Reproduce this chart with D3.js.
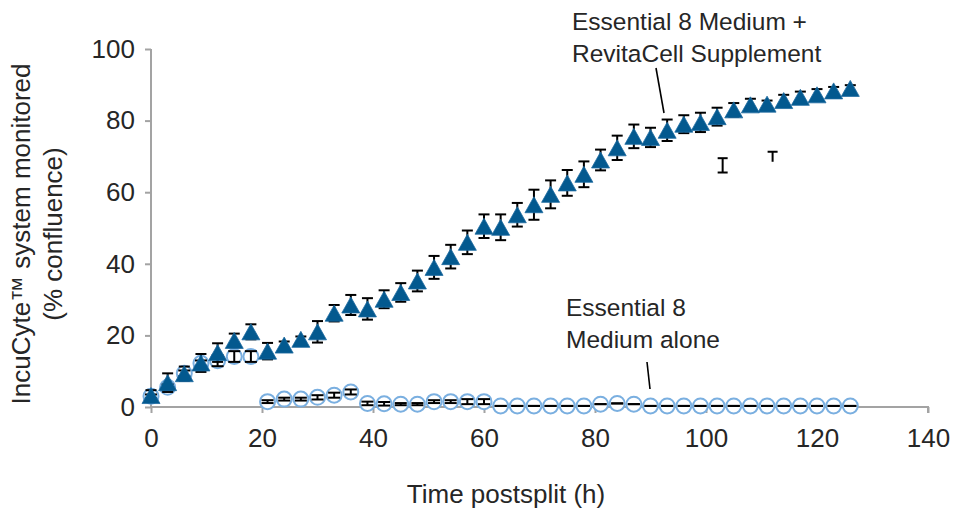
<!DOCTYPE html>
<html>
<head>
<meta charset="utf-8">
<script src="https://cdn.jsdelivr.net/npm/d3@7/dist/d3.min.js"></script>
<style>
  html, body { margin: 0; padding: 0; background: #fff; }
  svg text { font-family: "Liberation Sans", Arial, sans-serif; fill: #262626; }
</style>
</head>
<body>
<div id="chart"></div>
<script>
// time points (h) and the two series
var times = [0, 3, 6, 9, 12, 15, 18, 21, 24, 27, 30, 33, 36, 39, 42, 45, 48, 51, 54, 57, 60,
             63, 66, 69, 72, 75, 78, 81, 84, 87, 90, 93, 96, 99, 102, 105, 108, 111, 114, 117, 120, 123, 126];

var revitaValues = [3.2, 6.8, 9.3, 12.3, 15.2, 18.6, 21.0, 15.6, 17.3, 18.9, 21.0, 26.2, 28.5, 27.4, 30.1, 32.0, 35.2, 39.0, 42.0, 46.0, 50.5,
                    50.2, 53.7, 56.5, 59.4, 62.6, 65.0, 69.0, 72.4, 75.6, 75.3, 77.3, 79.0, 79.5, 81.1, 83.0, 84.4, 84.6, 85.6, 86.5, 87.2, 88.3, 89.0];
var revitaErr = [1.5, 2.6, 2.0, 2.5, 2.6, 1.9, 2.1, 2.3, 1.0, 0.8, 3.0, 2.3, 2.8, 3.0, 2.5, 2.6, 2.9, 3.2, 3.3, 3.3, 3.3,
                 3.6, 3.3, 4.2, 3.9, 3.6, 3.6, 2.9, 3.4, 3.3, 2.7, 3.0, 2.5, 2.7, 2.5, 1.9, 1.7, 1.0, 1.6, 1.6, 1.6, 1.1, 0.9];

var aloneValues = [3.0, 5.5, 9.4, 12.2, 12.9, 14.1, 14.1, 1.5, 2.2, 2.2, 2.7, 3.3, 4.2, 1.0, 0.9, 0.8, 0.8, 1.5, 1.5, 1.5, 1.5,
                   0.3, 0.3, 0.3, 0.3, 0.3, 0.3, 0.8, 1.0, 0.8, 0.3, 0.3, 0.3, 0.3, 0.3, 0.3, 0.3, 0.3, 0.3, 0.3, 0.3, 0.3, 0.3];
var aloneErr = [0.5, 0.8, 0.8, 0.8, 1.5, 1.5, 1.5, 0.4, 0.4, 0.4, 0.6, 0.7, 0.7, 0.5, 0.5, 0.3, 0.3, 0.4, 0.4, 0.7, 0.7,
                0, 0, 0, 0, 0, 0, 0, 0, 0, 0, 0, 0, 0, 0, 0, 0, 0, 0, 0, 0, 0, 0];

// two loose error bars with no marker
var strayTimes = [103, 112];
var strayLow = [65.5, 68.5];
var strayHigh = [69.5, 71.3];
var strayBottomCap = [true, false];

var xTicks = [0, 20, 40, 60, 80, 100, 120, 140];
var yTicks = [0, 20, 40, 60, 80, 100];

var yTitle = ["IncuCyte\u2122 system monitored", "(% confluence)"];
var xTitle = "Time postsplit (h)";
var revitaLabel = ["Essential 8 Medium +", "RevitaCell Supplement"];
var aloneLabel = ["Essential 8", "Medium alone"];

var width = 953, height = 515;
var svg = d3.select("#chart").append("svg")
    .attr("width", width)
    .attr("height", height);

var x = d3.scaleLinear().domain([0, 140]).range([151, 928]);
var y = d3.scaleLinear().domain([0, 100]).range([407, 49]);

var axisColor = "#a3a3a3";
var darkBlue = "#03598f";
var lightBlue = "#7aafe0";

//------------------------------axes--------------------------
var gx = svg.append("g")
    .attr("transform", "translate(0," + y(0) + ")")
    .call(d3.axisBottom(x).tickValues(xTicks).tickSize(6).tickPadding(16).tickFormat(d3.format("d")));
var gy = svg.append("g")
    .attr("transform", "translate(" + x(0) + ",0)")
    .call(d3.axisLeft(y).tickValues(yTicks).tickSize(6).tickPadding(10).tickFormat(d3.format("d")));

[gx, gy].forEach(function(g) {
    g.select(".domain").attr("stroke", axisColor).attr("stroke-width", 2);
    g.selectAll(".tick line").attr("stroke", axisColor).attr("stroke-width", 2);
    g.selectAll(".tick text").attr("font-size", "26px").attr("fill", "#262626")
        .style("font-family", "Liberation Sans, Arial, sans-serif");
});
// remove the outer tick stubs that d3 adds to the domain path
gx.select(".domain").attr("d", "M" + x(0) + ",0H" + x(140) + "V6");
gy.select(".domain").attr("d", "M0," + y(0) + "V" + y(100));

// axis titles
svg.append("g")
    .attr("transform", "translate(30,234) rotate(-90)")
    .selectAll("text")
    .data(yTitle)
    .enter()
    .append("text")
    .attr("x", 0)
    .attr("y", function(d, i) { return i * 32; })
    .attr("font-size", "26px")
    .style("text-anchor", "middle")
    .text(function(d) { return d; });

svg.append("text")
    .attr("x", 506)
    .attr("y", 503)
    .attr("font-size", "26px")
    .style("text-anchor", "middle")
    .text(xTitle);

//------------------------------series--------------------------
var alone = times.map(function(t, i) { return { t: t, v: aloneValues[i], e: aloneErr[i] }; });
var revita = times.map(function(t, i) { return { t: t, v: revitaValues[i], e: revitaErr[i] }; });

function errorBars(g, data, capW) {
    var bars = g.selectAll("g").data(data).enter().append("g")
        .attr("stroke", "#000")
        .attr("stroke-width", 2);
    bars.append("line")
        .attr("x1", function(d) { return x(d.t); })
        .attr("x2", function(d) { return x(d.t); })
        .attr("y1", function(d) { return y(d.v + d.e); })
        .attr("y2", function(d) { return y(d.v - d.e); });
    bars.append("line")
        .attr("x1", function(d) { return x(d.t) - capW / 2; })
        .attr("x2", function(d) { return x(d.t) + capW / 2; })
        .attr("y1", function(d) { return y(d.v + d.e); })
        .attr("y2", function(d) { return y(d.v + d.e); });
    bars.append("line")
        .attr("x1", function(d) { return x(d.t) - capW / 2; })
        .attr("x2", function(d) { return x(d.t) + capW / 2; })
        .attr("y1", function(d) { return y(d.v - d.e); })
        .attr("y2", function(d) { return y(d.v - d.e); });
}

// Essential 8 Medium alone: open circles
svg.append("g")
    .selectAll("circle")
    .data(alone)
    .enter()
    .append("circle")
    .attr("cx", function(d) { return x(d.t); })
    .attr("cy", function(d) { return y(d.v); })
    .attr("r", 7.5)
    .attr("fill", "#fff")
    .attr("stroke", lightBlue)
    .attr("stroke-width", 2);
errorBars(svg.append("g"), alone, 12);

// stray bars
var stray = svg.append("g").attr("stroke", "#000").attr("stroke-width", 2);
strayTimes.forEach(function(t, i) {
    var cx = x(t);
    stray.append("line").attr("x1", cx).attr("x2", cx).attr("y1", y(strayHigh[i])).attr("y2", y(strayLow[i]));
    stray.append("line").attr("x1", cx - 5).attr("x2", cx + 5).attr("y1", y(strayHigh[i])).attr("y2", y(strayHigh[i]));
    if (strayBottomCap[i]) {
        stray.append("line").attr("x1", cx - 5).attr("x2", cx + 5).attr("y1", y(strayLow[i])).attr("y2", y(strayLow[i]));
    }
});

// Essential 8 Medium + RevitaCell: filled triangles
errorBars(svg.append("g"), revita, 11);
svg.append("g")
    .selectAll("path")
    .data(revita)
    .enter()
    .append("path")
    .attr("d", function(d) {
        var cx = x(d.t), cy = y(d.v);
        return "M" + cx + "," + (cy - 8) + "L" + (cx + 9) + "," + (cy + 8) + "L" + (cx - 9) + "," + (cy + 8) + "Z";
    })
    .attr("fill", darkBlue)
    .attr("stroke", "#1d6aa0")
    .attr("stroke-width", 0.8);

//------------------------------labels--------------------------
function label(lines, lx, ly) {
    svg.append("g").selectAll("text")
        .data(lines)
        .enter()
        .append("text")
        .attr("x", lx)
        .attr("y", function(d, i) { return ly + i * 32; })
        .attr("font-size", "24.5px")
        .text(function(d) { return d; });
}
label(revitaLabel, 572, 30);
label(aloneLabel, 566, 316);

svg.append("line")
    .attr("x1", 656).attr("y1", 68).attr("x2", 664).attr("y2", 113)
    .attr("stroke", "#000").attr("stroke-width", 1.6);
svg.append("line")
    .attr("x1", 647).attr("y1", 362).attr("x2", 650).attr("y2", 389)
    .attr("stroke", "#000").attr("stroke-width", 1.6);
</script>
</body>
</html>
